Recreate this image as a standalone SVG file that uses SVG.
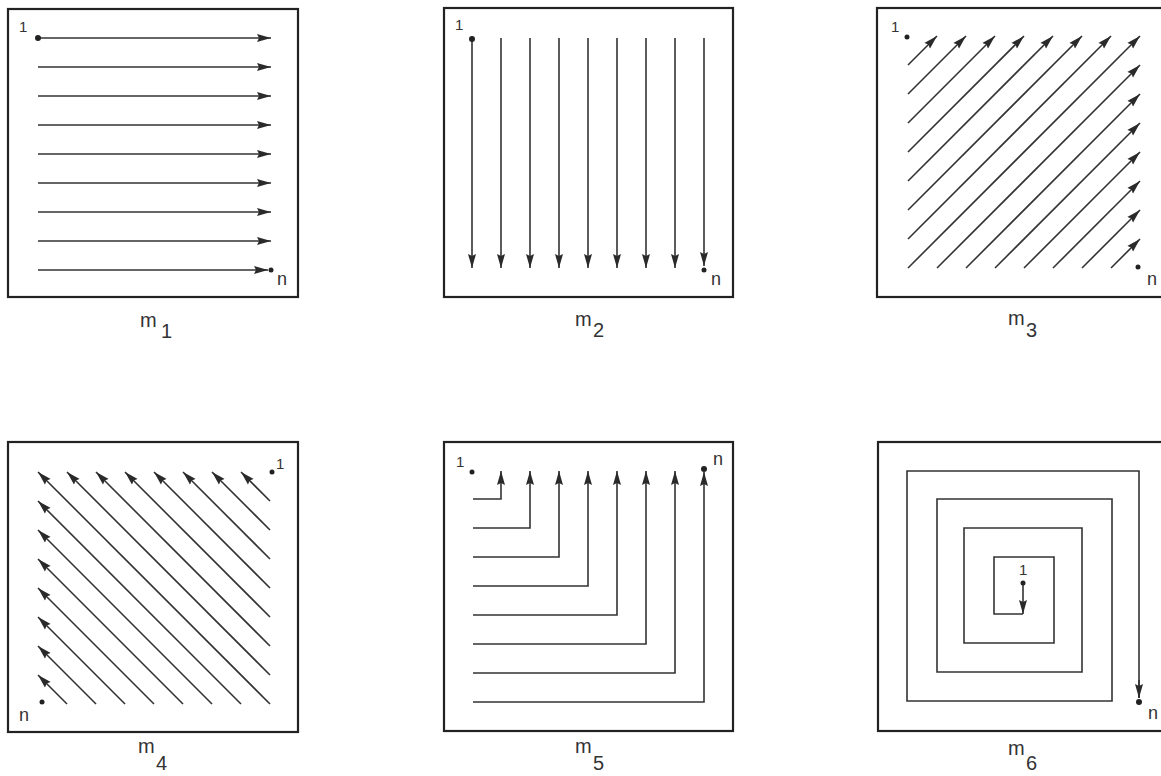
<svg xmlns="http://www.w3.org/2000/svg" width="1161" height="776" viewBox="0 0 1161 776">
<defs>
<marker id="ah" markerUnits="userSpaceOnUse" markerWidth="14" markerHeight="9" refX="14" refY="4.5" orient="auto" viewBox="0 0 14 9">
<path d="M0,0.5 L14,4.5 L0,8.5 L2,4.5 z" fill="#2a2a2a"/>
</marker>
<style>
.box{fill:none;stroke:#222;stroke-width:2.2}
.ln{fill:none;stroke:#333;stroke-width:1.6;marker-end:url(#ah)}
.sp{fill:none;stroke:#333;stroke-width:1.6}
.dot{fill:#222}
.sm{font-family:"Liberation Sans",Arial,sans-serif;font-size:15px;fill:#333}
.nn{font-family:"Liberation Sans",Arial,sans-serif;font-size:18px;fill:#333}
.lb{font-family:"Liberation Sans",Arial,sans-serif;font-size:20px;fill:#333}
</style>
</defs>
<rect width="1161" height="776" fill="#fff"/>

<g id="m1">
<rect class="box" x="8" y="9" width="290" height="288"/>
<g class="connectors">
<line class="ln" x1="38" y1="38" x2="271" y2="38"/>
<line class="ln" x1="38" y1="67" x2="271" y2="67"/>
<line class="ln" x1="38" y1="96" x2="271" y2="96"/>
<line class="ln" x1="38" y1="125" x2="271" y2="125"/>
<line class="ln" x1="38" y1="154" x2="271" y2="154"/>
<line class="ln" x1="38" y1="183" x2="271" y2="183"/>
<line class="ln" x1="38" y1="212" x2="271" y2="212"/>
<line class="ln" x1="38" y1="241" x2="271" y2="241"/>
<line class="ln" x1="38" y1="270" x2="268" y2="270"/>
</g>
<circle class="dot" cx="38" cy="38" r="3"/>
<circle class="dot" cx="271" cy="270" r="2.5"/>
<text class="sm" x="19" y="32">1</text>
<text class="nn" x="277" y="285">n</text>
<text class="lb" x="140" y="327">m</text>
<text class="lb" x="161" y="338">1</text>
</g>

<g id="m2">
<rect class="box" x="444" y="8" width="289" height="289"/>
<g class="connectors">
<line class="ln" x1="472" y1="39" x2="472" y2="268"/>
<line class="ln" x1="501" y1="38" x2="501" y2="268"/>
<line class="ln" x1="530" y1="38" x2="530" y2="268"/>
<line class="ln" x1="559" y1="38" x2="559" y2="268"/>
<line class="ln" x1="588" y1="38" x2="588" y2="268"/>
<line class="ln" x1="617" y1="38" x2="617" y2="268"/>
<line class="ln" x1="646" y1="38" x2="646" y2="268"/>
<line class="ln" x1="675" y1="38" x2="675" y2="268"/>
<line class="ln" x1="704" y1="38" x2="704" y2="266"/>
</g>
<circle class="dot" cx="472" cy="39" r="3"/>
<circle class="dot" cx="704" cy="270" r="2.5"/>
<text class="sm" x="455" y="30">1</text>
<text class="nn" x="711" y="285">n</text>
<text class="lb" x="575" y="326">m</text>
<text class="lb" x="593" y="337">2</text>
</g>

<g id="m3">
<rect class="box" x="877" y="8" width="290" height="289"/>
<g class="connectors">
<line class="ln" x1="908" y1="65" x2="937" y2="36"/>
<line class="ln" x1="908" y1="94" x2="966" y2="36"/>
<line class="ln" x1="908" y1="123" x2="995" y2="36"/>
<line class="ln" x1="908" y1="152" x2="1024" y2="36"/>
<line class="ln" x1="908" y1="181" x2="1053" y2="36"/>
<line class="ln" x1="908" y1="210" x2="1082" y2="36"/>
<line class="ln" x1="908" y1="239" x2="1111" y2="36"/>
<line class="ln" x1="908" y1="268" x2="1140" y2="36"/>
<line class="ln" x1="937" y1="268" x2="1140" y2="65"/>
<line class="ln" x1="966" y1="268" x2="1140" y2="94"/>
<line class="ln" x1="995" y1="268" x2="1140" y2="123"/>
<line class="ln" x1="1024" y1="268" x2="1140" y2="152"/>
<line class="ln" x1="1053" y1="268" x2="1140" y2="181"/>
<line class="ln" x1="1082" y1="268" x2="1140" y2="210"/>
<line class="ln" x1="1111" y1="268" x2="1140" y2="239"/>
</g>
<circle class="dot" cx="907" cy="37" r="2.5"/>
<circle class="dot" cx="1138" cy="267" r="2.5"/>
<text class="sm" x="891" y="32">1</text>
<text class="nn" x="1147" y="285">n</text>
<text class="lb" x="1008" y="325">m</text>
<text class="lb" x="1026" y="337">3</text>
</g>

<g id="m4">
<rect class="box" x="8" y="442" width="290" height="290"/>
<g class="connectors">
<line class="ln" x1="270" y1="501" x2="241" y2="472"/>
<line class="ln" x1="270" y1="530" x2="212" y2="472"/>
<line class="ln" x1="270" y1="559" x2="183" y2="472"/>
<line class="ln" x1="270" y1="588" x2="154" y2="472"/>
<line class="ln" x1="270" y1="617" x2="125" y2="472"/>
<line class="ln" x1="270" y1="646" x2="96" y2="472"/>
<line class="ln" x1="270" y1="675" x2="67" y2="472"/>
<line class="ln" x1="270" y1="704" x2="38" y2="472"/>
<line class="ln" x1="67" y1="704" x2="38" y2="675"/>
<line class="ln" x1="96" y1="704" x2="38" y2="646"/>
<line class="ln" x1="125" y1="704" x2="38" y2="617"/>
<line class="ln" x1="154" y1="704" x2="38" y2="588"/>
<line class="ln" x1="183" y1="704" x2="38" y2="559"/>
<line class="ln" x1="212" y1="704" x2="38" y2="530"/>
<line class="ln" x1="241" y1="704" x2="38" y2="501"/>
</g>
<circle class="dot" cx="272" cy="472" r="2.5"/>
<circle class="dot" cx="42" cy="702" r="2.5"/>
<text class="sm" x="276" y="469">1</text>
<text class="nn" x="19" y="721">n</text>
<text class="lb" x="138" y="753">m</text>
<text class="lb" x="156" y="770">4</text>
</g>

<g id="m5">
<rect class="box" x="444" y="442" width="289" height="289"/>
<g class="connectors">
<path class="ln" d="M473,499 H501 V471"/>
<path class="ln" d="M473,528 H530 V471"/>
<path class="ln" d="M473,557 H559 V471"/>
<path class="ln" d="M473,586 H588 V471"/>
<path class="ln" d="M473,615 H617 V471"/>
<path class="ln" d="M473,644 H646 V471"/>
<path class="ln" d="M473,673 H675 V471"/>
<path class="ln" d="M473,702 H704 V472"/>
</g>
<circle class="dot" cx="472" cy="472" r="2.5"/>
<circle class="dot" cx="704" cy="469" r="3"/>
<text class="sm" x="456" y="467">1</text>
<text class="nn" x="713" y="465">n</text>
<text class="lb" x="575" y="753">m</text>
<text class="lb" x="593" y="770">5</text>
</g>

<g id="m6">
<rect class="box" x="878" y="442" width="290" height="289"/>
<g class="connectors">
<line class="ln" x1="1023" y1="583" x2="1023" y2="614"/>
<path class="sp" d="M1023,614 H994 V557 H1054 V643 H964 V528 H1082 V672 H937 V499 H1112 V701 H907 V471 H1139 V698"/>
<line class="ln" x1="1139" y1="680" x2="1139" y2="698"/>
</g>
<circle class="dot" cx="1023" cy="583" r="2.5"/>
<circle class="dot" cx="1139" cy="702" r="3"/>
<text class="sm" x="1019" y="575">1</text>
<text class="nn" x="1148" y="719">n</text>
<text class="lb" x="1008" y="755">m</text>
<text class="lb" x="1026" y="770">6</text>
</g>
</svg>
